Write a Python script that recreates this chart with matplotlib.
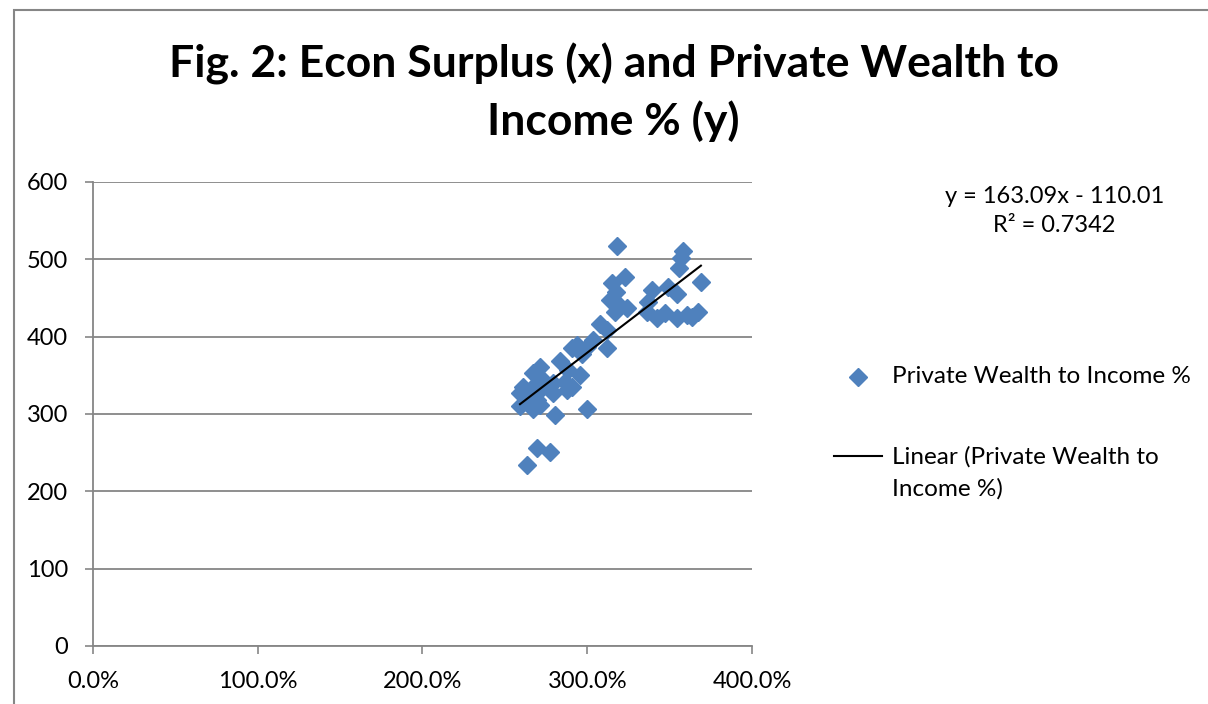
import matplotlib
matplotlib.use("Agg")
import matplotlib.pyplot as plt
from matplotlib.ticker import PercentFormatter, MultipleLocator
from matplotlib.lines import Line2D
from matplotlib.patches import Rectangle

# econ surplus (%) and private wealth to income %
surplus_pct = [318.3, 357.9, 356.8, 355.5, 322.9, 314.8, 317.5, 313.8, 319.9, 324.0,
               316.8, 369.0, 339.1, 349.2, 354.3, 337.0, 336.0, 342.1, 347.2, 354.3,
               360.4, 367.0, 363.4, 307.7, 311.8, 311.8, 303.7, 299.7, 293.6, 290.6,
               296.6, 283.5, 271.3, 271.3, 267.3, 288.5, 295.6, 286.5, 290.6, 279.4,
               279.4, 287.5, 273.3, 267.3, 261.2, 259.2, 265.2, 269.3, 259.2, 267.3,
               271.3, 280.4, 299.7, 269.3, 277.4, 263.2]
wealth = [517, 511, 502, 489, 477, 470, 458, 447, 439, 437,
          432, 471, 460, 464, 455, 445, 432, 424, 430, 424,
          428, 432, 425, 417, 409, 385, 396, 387, 389, 385,
          378, 368, 361, 348, 353, 357, 351, 342, 335, 340,
          327, 331, 335, 335, 335, 327, 322, 318, 310, 307,
          312, 299, 307, 256, 251, 234]

slope = 163.09
intercept = -110.01
r2 = 0.7342

series_name = "Private Wealth to Income %"
trend_name = "Linear (Private Wealth to\nIncome %)"

plt.rcParams['font.family'] = ['Lato', 'DejaVu Sans']

x = [v / 100 for v in surplus_pct]
blue = "#4F81BD"
grid_c = "#868686"

fig = plt.figure(figsize=(12.08, 7.04), dpi=100)
ax = fig.add_axes([0.077, 0.0824, 0.5455, 0.6591])

ax.plot(x, wealth, linestyle="none", marker="D", ms=8.7, color=blue,
        markeredgecolor=blue, zorder=3)

xs = [min(x), max(x)]
ax.plot(xs, [slope * v + intercept for v in xs], color="black", lw=1.5, zorder=4)

ax.set_xlim(0, 4)
ax.set_ylim(0, 600)
ax.xaxis.set_major_locator(MultipleLocator(1))
ax.yaxis.set_major_locator(MultipleLocator(100))
ax.xaxis.set_major_formatter(PercentFormatter(xmax=1, decimals=1))
ax.grid(axis="y", color=grid_c, lw=1.3)
ax.set_axisbelow(True)
for s in ["top", "right"]:
    ax.spines[s].set_visible(False)
for s in ["left", "bottom"]:
    ax.spines[s].set_color(grid_c)
    ax.spines[s].set_linewidth(1.3)
ax.tick_params(colors=grid_c, labelcolor="black", labelsize=17, length=6, width=1.2)
ax.tick_params(axis="x", pad=12)
ax.tick_params(axis="y", pad=12)

fig.text(0.508, 0.869, "Fig. 2: Econ Surplus (x) and Private Wealth to\nIncome % (y)",
         ha="center", va="center", fontsize=32, fontweight="bold", linespacing=1.45)

fig.text(0.873, 0.7, f"y = {slope}x - {abs(intercept)}\nR² = {r2}",
         ha="center", va="center", fontsize=17, linespacing=1.5)

# legend, drawn by hand to match the spacing
fig.add_artist(Line2D([858 / 1208], [0.4645], linestyle="none", marker="D", ms=8.7,
                      color=blue, transform=fig.transFigure))
fig.text(892 / 1208, 0.4645, series_name, ha="left", va="center", fontsize=17.5)
fig.add_artist(Line2D([834 / 1208, 882 / 1208], [0.3523, 0.3523], color="black",
                      lw=1.5, transform=fig.transFigure))
fig.text(892 / 1208, 0.328, trend_name, ha="left", va="center", fontsize=17.5,
         linespacing=1.6)

# chart frame
fig.patches.append(Rectangle((14 / 1208, -0.1), 1.2, 1.1 - 10 / 704,
                             transform=fig.transFigure, fill=False,
                             edgecolor=grid_c, lw=1.5))

fig.savefig("out.png", dpi=100)
